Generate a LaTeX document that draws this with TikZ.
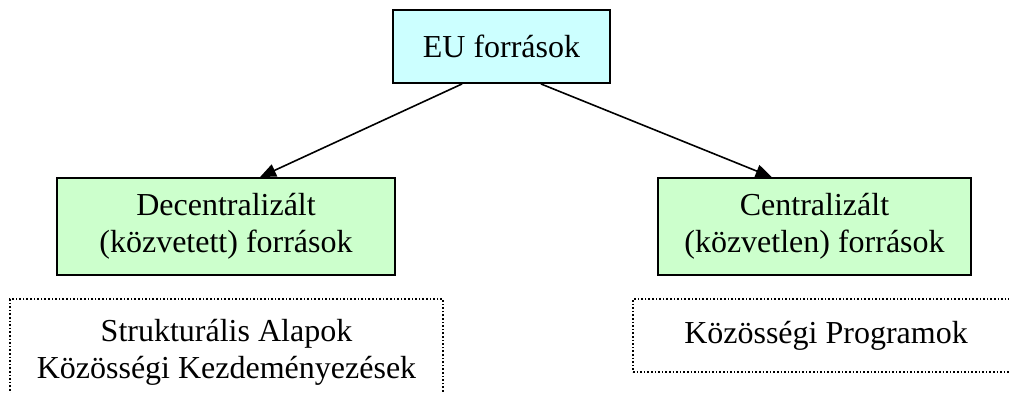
\documentclass[tikz,border=0pt]{standalone}
\usepackage{fontspec}
\setmainfont{Liberation Serif}
\usetikzlibrary{arrows.meta,calc}
\definecolor{topfill}{HTML}{CCFFFF}
\definecolor{midfill}{HTML}{CCFFCC}
\begin{document}
\begin{tikzpicture}[x=1pt,y=-1pt,
  box/.style={draw=black,line width=1.8pt,align=center,inner sep=0pt,
    font=\fontsize{32}{37}\selectfont},
  dotbox/.style={draw=black,line width=1.6pt,dotted,align=center,inner sep=0pt,
    font=\fontsize{32}{37}\selectfont},
  link/.style={line width=1.6pt,-{Triangle[length=16pt,width=13pt]}}]
\useasboundingbox (0,0) rectangle (1009,392);
\clip (0,0) rectangle (1009,392);

% source box
\node[box,fill=topfill,minimum width=217pt,minimum height=73pt] (eu) at (501.5,46.5) {EU források};

% two branches
\node[box,fill=midfill,minimum width=338pt,minimum height=97pt] (dec) at (226,226.5)
  {Decentralizált\\(közvetett) források};
\node[box,fill=midfill,minimum width=313pt,minimum height=97pt] (cen) at (814.5,226.5)
  {Centralizált\\(közvetlen) források};

% programme groups
\node[dotbox,minimum width=433pt,minimum height=106pt] (sa) at (226.5,352)
  {Strukturális Alapok\\Közösségi Kezdeményezések};
\node[dotbox,minimum width=386pt,minimum height=73pt] (kp) at (826,335.5)
  {Közösségi Programok};

% connectors
\draw[link] ($(eu.south west)!0.32!(eu.south east)$) -- ($(dec.north west)!0.6!(dec.north east)$);
\draw[link] ($(eu.south west)!0.68!(eu.south east)$) -- ($(cen.north west)!0.364!(cen.north east)$);
\end{tikzpicture}
\end{document}
